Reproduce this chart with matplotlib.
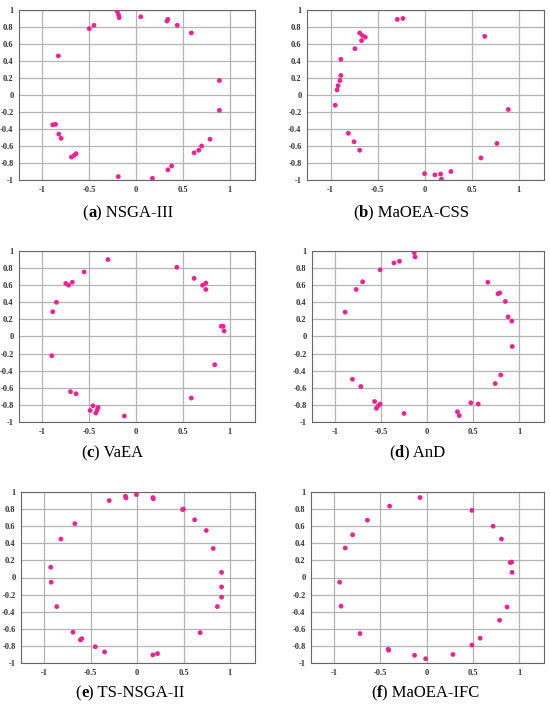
import matplotlib
matplotlib.use("Agg")
import matplotlib.pyplot as plt
from matplotlib.offsetbox import TextArea, HPacker, AnchoredOffsetbox

# ---- data ----
titles = ["NSGA-III", "MaOEA-CSS", "VaEA", "AnD", "TS-NSGA-II", "MaOEA-IFC"]
letters = ["a", "b", "c", "d", "e", "f"]

nsga3_x = [-0.20, -0.186, -0.18, 0.05, 0.33, 0.34, 0.44, 0.59, -0.45, -0.50, -0.83, 0.89, 0.89,
           -0.89, -0.86, -0.825, -0.80, 0.79, 0.70, 0.67, 0.62, -0.64, -0.66, -0.69, -0.19, 0.175,
           0.34, 0.38]
nsga3_y = [0.98, 0.94, 0.91, 0.92, 0.87, 0.89, 0.82, 0.73, 0.82, 0.78, 0.46, 0.17, -0.18,
           -0.35, -0.345, -0.46, -0.51, -0.52, -0.60, -0.65, -0.68, -0.69, -0.71, -0.73, -0.96, -0.98,
           -0.88, -0.835]

maoeacss_x = [-0.29, -0.23, 0.64, -0.69, -0.66, -0.63, -0.67, -0.74, -0.89, -0.89, -0.90, -0.92,
              -0.93, -0.95, 0.89, -0.81, -0.75, -0.69, 0.77, 0.60, 0.0, 0.11, 0.17, 0.18, 0.28]
maoeacss_y = [0.89, 0.90, 0.69, 0.73, 0.70, 0.68, 0.64, 0.545, 0.42, 0.23, 0.17, 0.11,
              0.06, -0.12, -0.17, -0.45, -0.55, -0.65, -0.57, -0.74, -0.925, -0.94, -0.93, -0.99, -0.90]

vaea_x = [-0.30, -0.555, -0.75, -0.72, -0.68, -0.85, -0.89, -0.90, 0.435, 0.62, 0.745, 0.71, 0.745,
          0.91, 0.93, 0.94, 0.84, 0.59, -0.70, -0.64, -0.46, -0.49, -0.405, -0.415, -0.43, -0.125]
vaea_y = [0.90, 0.755, 0.62, 0.60, 0.635, 0.40, 0.29, -0.225, 0.81, 0.68, 0.625, 0.60, 0.55,
          0.12, 0.12, 0.065, -0.33, -0.72, -0.645, -0.67, -0.81, -0.865, -0.83, -0.86, -0.895, -0.93]

and_x = [-0.14, -0.13, -0.30, -0.36, -0.51, -0.70, -0.77, -0.89, 0.66, 0.77, 0.79, 0.85, 0.88, 0.92,
         0.925, 0.80, 0.74, -0.81, -0.72, -0.57, -0.51, -0.53, -0.55, -0.25, 0.475, 0.555, 0.33, 0.35]
and_y = [0.98, 0.93, 0.88, 0.86, 0.78, 0.64, 0.55, 0.285, 0.635, 0.50, 0.51, 0.41, 0.23, 0.18,
         -0.117, -0.45, -0.55, -0.50, -0.585, -0.76, -0.79, -0.81, -0.84, -0.90, -0.775, -0.79, -0.88, -0.925]

tsnsga2_x = [-0.30, -0.125, -0.12, -0.007, 0.17, 0.175, 0.49, 0.50, 0.62, 0.745, 0.82, 0.91, 0.91,
             0.91, 0.865, 0.68, -0.67, -0.82, -0.93, -0.925, -0.865, -0.69, -0.595, -0.61, -0.45,
             -0.35, 0.17, 0.22]
tsnsga2_y = [0.90, 0.95, 0.93, 0.97, 0.935, 0.92, 0.795, 0.80, 0.675, 0.55, 0.34, 0.06, -0.11,
             -0.23, -0.34, -0.645, 0.63, 0.45, 0.12, -0.055, -0.34, -0.64, -0.715, -0.73, -0.81,
             -0.87, -0.905, -0.89]

maoeaifc_x = [-0.07, -0.40, -0.64, -0.80, -0.88, -0.94, -0.925, -0.72, -0.415, -0.41, -0.13, -0.01,
              0.285, 0.49, 0.58, 0.79, 0.87, 0.925, 0.905, 0.92, 0.81, 0.72, 0.49]
maoeaifc_y = [0.935, 0.835, 0.67, 0.50, 0.345, -0.055, -0.335, -0.655, -0.84, -0.85, -0.91, -0.95,
              -0.90, -0.79, -0.71, -0.50, -0.345, 0.06, 0.175, 0.18, 0.45, 0.60, 0.785]

xticks = [-1, -0.5, 0, 0.5, 1]
xtick_labels = ["-1", "-0.5", "0", "0.5", "1"]
yticks = [-1, -0.8, -0.6, -0.4, -0.2, 0, 0.2, 0.4, 0.6, 0.8, 1]
ytick_labels = ["-1", "-0.8", "-0.6", "-0.4", "-0.2", "0", "0.2", "0.4", "0.6", "0.8", "1"]

series = [(nsga3_x, nsga3_y), (maoeacss_x, maoeacss_y), (vaea_x, vaea_y),
          (and_x, and_y), (tsnsga2_x, tsnsga2_y), (maoeaifc_x, maoeaifc_y)]

# ---- layout ----
W, H = 550, 707
fig = plt.figure(figsize=(W / 100, H / 100), dpi=100)
fig.patch.set_facecolor("white")

# pixel boxes (left, right, top, bottom)
boxes = [(19, 255, 10, 180), (307, 544, 10, 180),
         (19, 255, 251, 422), (312, 544, 251, 422),
         (21, 255, 492, 663), (311, 544, 492, 663)]
caption_y = [213, 213, 453, 453, 693, 693]
caption_x = [128, 411, 112, 417, 130, 425]

color = "#EE2290"
serif = ["Liberation Serif", "DejaVu Serif"]

for i, ((xs, ys), (l, r, t, b)) in enumerate(zip(series, boxes)):
    ax = fig.add_axes([l / W, 1 - b / H, (r - l) / W, (b - t) / H])
    ax.scatter(xs, ys, s=12, color=color, edgecolors="none", zorder=3)
    ax.set_xlim(-1.25, 1.27)
    ax.set_ylim(-1, 1)
    ax.set_xticks(xticks)
    ax.set_xticklabels(xtick_labels)
    ax.set_yticks(yticks)
    ax.set_yticklabels(ytick_labels)
    ax.tick_params(length=0, labelsize=6, pad=4, colors="#333333")
    for lab in ax.get_xticklabels() + ax.get_yticklabels():
        lab.set_family(serif)
        lab.set_fontweight("bold")
    ax.grid(True, color="#b4b4b4", lw=0.9)
    ax.set_axisbelow(True)
    for sp in ax.spines.values():
        sp.set_color("#666666")
        sp.set_linewidth(0.8)

    # caption with bold letter
    parts = [TextArea("(", textprops=dict(family=serif, fontsize=12)),
             TextArea(letters[i], textprops=dict(family=serif, fontsize=12, fontweight="bold")),
             TextArea(") " + titles[i], textprops=dict(family=serif, fontsize=12))]
    pack = HPacker(children=parts, align="baseline", pad=0, sep=0)
    ab = AnchoredOffsetbox(loc="center", child=pack, frameon=False,
                           bbox_to_anchor=(caption_x[i] / W, 1 - caption_y[i] / H),
                           bbox_transform=fig.transFigure, pad=0, borderpad=0)
    fig.add_artist(ab)

fig.savefig("out.png", dpi=100, facecolor="white")
